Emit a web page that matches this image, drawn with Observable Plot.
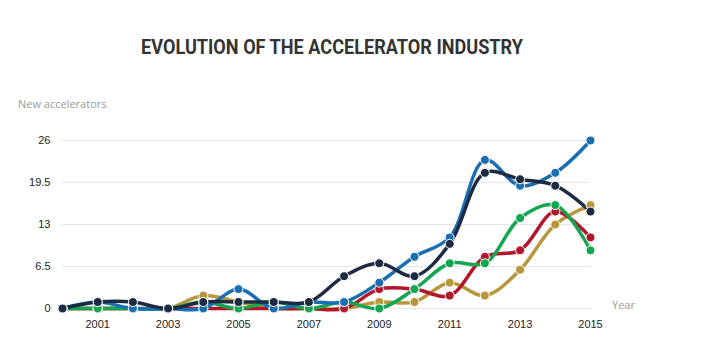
<!DOCTYPE html>
<html>
<head>
<meta charset="utf-8">
<script src="https://cdn.jsdelivr.net/npm/d3@7"></script>
<script src="https://cdn.jsdelivr.net/npm/@observablehq/plot@0.6"></script>
<style>
  html, body { margin: 0; padding: 0; background: #fff; }
  #wrap { position: relative; width: 712px; height: 354px; overflow: hidden; }
  #title { position: absolute; left: 0; top: 0; }
  .lbl { position: absolute; font-family: "Open Sans", sans-serif; font-size: 11px; color: #999; }
</style>
</head>
<body>
<div id="wrap">
  <div id="chart"></div>
  <svg id="title" width="712" height="70">
    <text x="141" y="54" textLength="382" lengthAdjust="spacingAndGlyphs"
      font-family="Roboto, sans-serif" font-weight="700" font-size="21" fill="#333">EVOLUTION OF THE ACCELERATOR INDUSTRY</text>
  </svg>
  <div class="lbl" style="left:18px; top:96px;">New accelerators</div>
  <div class="lbl" style="left:612px; top:297px;">Year</div>
</div>
<script>
const years = [2000,2001,2002,2003,2004,2005,2006,2007,2008,2009,2010,2011,2012,2013,2014,2015];
const seriesNames = ["Series A","Series B","Series C","Series D","Series E"];
const goldValues  = [0,0,0,0,2,1,0,0,0,1,1,4,2,6,13,16];
const redValues   = [0,0,0,0,0,0,0,0,0,3,3,2,8,9,15,11];
const greenValues = [0,0,0,0,1,0,1,0,1,0,3,7,7,14,16,9];
const blueValues  = [0,1,0,0,0,3,0,1,1,4,8,11,23,19,21,26];
const navyValues  = [0,1,1,0,1,1,1,1,5,7,5,10,21,20,19,15];
const yTicks = [0, 6.5, 13, 19.5, 26];
const xTicks = [2001,2003,2005,2007,2009,2011,2013,2015];
const colors = ["#b8963a","#b0172b","#12a650","#1a6eb2","#1c2a42"];

const valueArrays = [goldValues, redValues, greenValues, blueValues, navyValues];
const data = [];
seriesNames.forEach((s, i) => {
  years.forEach((y, j) => data.push({series: s, year: y, value: valueArrays[i][j]}));
});

const chart = Plot.plot({
  width: 712,
  height: 354,
  marginLeft: 62,
  marginRight: 122,
  marginTop: 140,
  marginBottom: 46,
  style: {fontFamily: "'Liberation Sans', Arial, sans-serif", fontSize: "11px", color: "#222", background: "transparent"},
  x: {domain: [2000, 2015], label: null},
  y: {domain: [0, 26], label: null},
  color: {type: "ordinal", domain: seriesNames, range: colors},
  marks: [
    Plot.gridY(yTicks, {stroke: "#e6e6e6", strokeOpacity: 1, strokeWidth: 1}),
    Plot.axisY({ticks: yTicks, tickSize: 0, tickPadding: 12, tickFormat: d => String(d), label: null}),
    Plot.axisX({ticks: xTicks, tickSize: 0, tickPadding: 12, tickFormat: d => String(d), label: null}),
    ...seriesNames.map(s => Plot.line(data.filter(d => d.series === s), {
      x: "year", y: "value", stroke: "series", strokeWidth: 3.5, curve: "catmull-rom"
    })),
    ...seriesNames.map(s => Plot.dot(data.filter(d => d.series === s), {
      x: "year", y: "value", fill: "series", stroke: "#fff", strokeWidth: 1, r: 4.5
    }))
  ]
});
document.getElementById("chart").appendChild(chart);
</script>
</body>
</html>
